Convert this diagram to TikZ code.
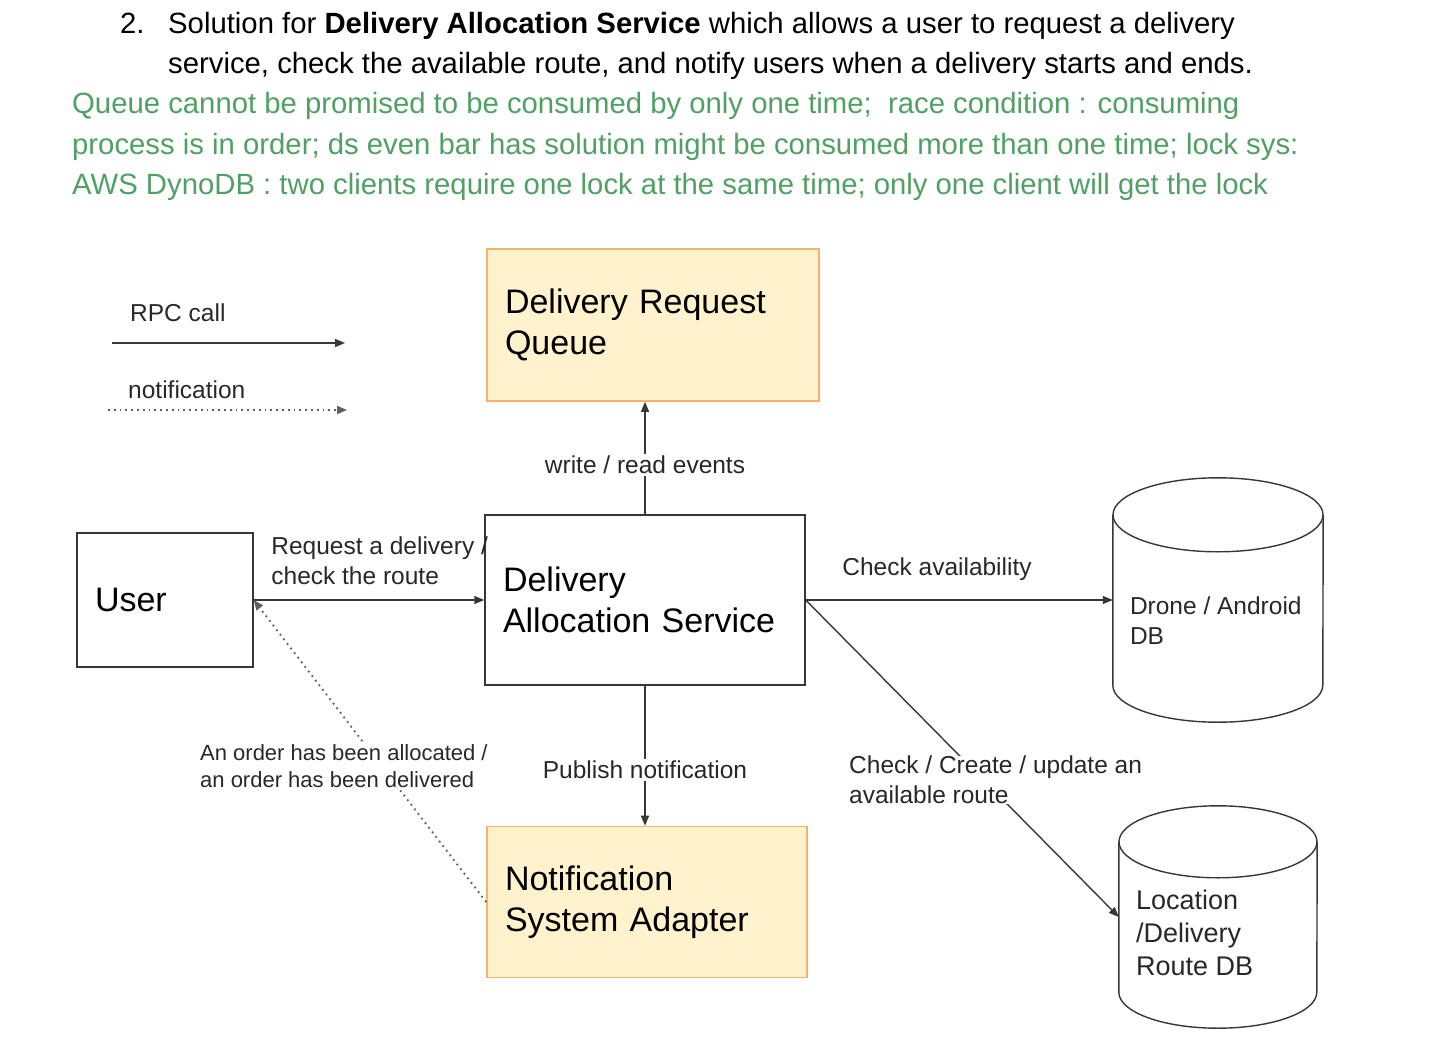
\documentclass[tikz,border=0pt]{standalone}
\usepackage{fontspec}
\setmainfont{Liberation Sans}
\usepackage{tikz}
\usetikzlibrary{arrows.meta,calc,positioning,shapes.geometric}
\definecolor{ink}{RGB}{40,40,40}
\definecolor{wire}{RGB}{55,55,55}
\definecolor{note}{RGB}{80,160,100}
\definecolor{qfill}{RGB}{255,242,204}
\definecolor{qedge}{RGB}{246,178,107}
\newcommand{\fs}[2]{\fontsize{#1}{#2}\selectfont}

\begin{document}
\begin{tikzpicture}[x=1pt,y=-1pt,
  box/.style={draw=wire,line width=1.4pt,align=left,inner xsep=18pt,inner ysep=0pt,font=\fs{34}{41}},
  qbox/.style={box,draw=qedge,fill=qfill,line width=1.6pt},
  dbline/.style={draw=wire,line width=1.4pt},
  lbl/.style={inner sep=0pt,align=left,text=ink,font=\fs{24.5}{30}},
  head/.style={anchor=base west,inner sep=0pt,font=\fs{29.3}{40}},
  rpc/.style={draw=wire,line width=1.4pt,-{Triangle[length=10pt,width=8pt]}},
  ntf/.style={draw=wire!80,line width=1.8pt,dash pattern=on 1.8pt off 4pt,-{Triangle[length=10pt,width=8pt]}}]
  \useasboundingbox (0,0) rectangle (1430,1046);
  % heading
  \node[head] (num) at (120,34) {2.};
  \node[head] (head1) at (168,34) {Solution for \textbf{Delivery Allocation Service} which allows a user to request a delivery};
  \node[head] (head2) at (168,74) {service, check the available route, and notify users when a delivery starts and ends.};
  \node[head,text=note] (memo1) at (72,114) {Queue cannot be promised to be consumed by only one time;\ \ race condition : consuming};
  \node[head,text=note] (memo2) at (72,154) {process is in order; ds even bar has solution might be consumed more than one time; lock sys:};
  \node[head,text=note] (memo3) at (72,194) {AWS DynoDB : two clients require one lock at the same time; only one client will get the lock};

  % legend
  \node[lbl,anchor=base west] (rpclbl) at (130,321) {RPC call};
  \coordinate (rpcA) at (112,343); \coordinate (rpcB) at (345,343);
  \draw[rpc] (rpcA) -- (rpcB);
  \node[lbl,anchor=base west] (ntflbl) at (128,398) {notification};
  \coordinate (ntfA) at (108,410); \coordinate (ntfB) at (347,410);
  \draw[ntf] (ntfA) -- (ntfB);

  % services
  \node[qbox,text width=296pt,minimum height=152pt] (queue) at (653,325) {Delivery Request\\Queue};
  \node[box,text width=284pt,minimum height=170pt] (das) at (645,600) {Delivery\\Allocation Service};
  \node[qbox,text width=284pt,minimum height=151pt] (nsa) at (647,902) {Notification\\System Adapter};
  \node[box,text width=140pt,minimum height=134pt] (user) at (165,600) {User};

  % stores
  \node[minimum width=210pt,minimum height=244pt,inner sep=0pt] (drone) at (1218,600) {};
  \draw[dbline] ($(drone.north)+(0,37)$) ellipse [x radius=105,y radius=37];
  \draw[dbline] ($(drone.north west)+(0,37)$) -- ($(drone.south west)+(0,-37)$)
    arc[start angle=180,end angle=0,x radius=105,y radius=37] -- ($(drone.north east)+(0,37)$);
  \node[lbl,anchor=west] (dronelbl) at ($(drone.west)+(17,21)$) {Drone / Android\\DB};
  \node[minimum width=198pt,minimum height=222pt,inner sep=0pt] (loc) at (1218,917) {};
  \draw[dbline] ($(loc.north)+(0,36)$) ellipse [x radius=99,y radius=36];
  \draw[dbline] ($(loc.north west)+(0,36)$) -- ($(loc.south west)+(0,-36)$)
    arc[start angle=180,end angle=0,x radius=99,y radius=36] -- ($(loc.north east)+(0,36)$);
  \node[lbl,anchor=west,font=\fs{27}{33}] (loclbl) at ($(loc.west)+(17,16)$) {Location\\/Delivery\\Route DB};

  % calls
  \draw[rpc] (das.north) -- (das.north |- queue.south) node[lbl,fill=white,pos=0.44,inner ysep=2pt] {write / read events};
  \draw[rpc] (user.east) -- (das.west) node[lbl,pos=0,anchor=south west,xshift=17pt,yshift=15pt] {Request a delivery /\\check the route};
  \draw[rpc] (das.east) -- (das.east -| drone.west) node[lbl,pos=0,anchor=base west,xshift=36pt,yshift=25pt] {Check availability};
  \draw[rpc] (das.east) -- (loc.west);
  \node[lbl,fill=white,anchor=north west] (routelbl) at (849,756) {Check / Create / update an\\available route};
  \draw[rpc] (das.south) -- (das.south |- nsa.north) node[lbl,fill=white,pos=0.6,inner ysep=2pt] {Publish notification};
  \draw[ntf] (nsa.west) -- (user.east);
  \node[lbl,fill=white,anchor=north west,font=\fs{22}{27}] (orderlbl) at (200,744) {An order has been allocated /\\an order has been delivered};
\end{tikzpicture}
\end{document}
